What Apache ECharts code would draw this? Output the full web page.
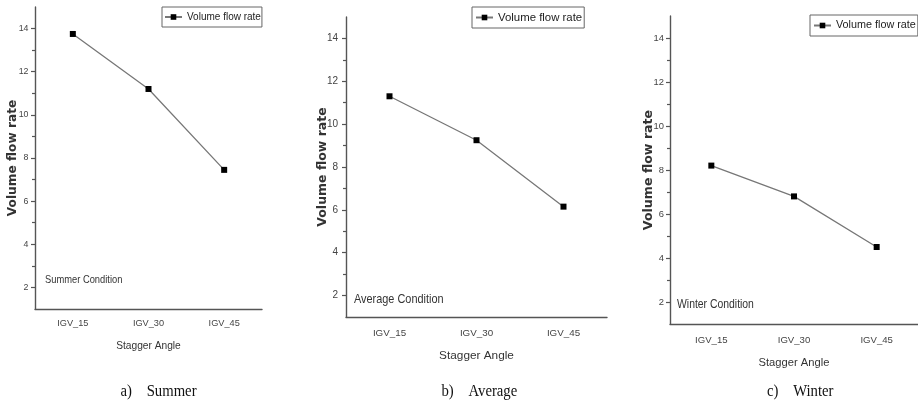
<!DOCTYPE html>
<html>
<head>
<meta charset="utf-8">
<script src="https://cdn.jsdelivr.net/npm/echarts@6/dist/echarts.min.js"></script>
<style>
html,body{margin:0;padding:0;background:#fff;}
#chart{width:918px;height:406px;}
</style>
</head>
<body>
<div id="chart"></div>
<script>
// ---- data ----
const categories = ['IGV_15', 'IGV_30', 'IGV_45'];
const summerFlow = [13.75, 11.2, 7.45];
const averageFlow = [11.3, 9.25, 6.15];
const winterFlow = [8.2, 6.8, 4.5];
const yMajorTicks = [2, 4, 6, 8, 10, 12, 14];
const yMinorTicks = [3, 5, 7, 9, 11, 13];
const seriesName = 'Volume flow rate';
const xAxisTitle = 'Stagger Angle';
const yAxisTitle = 'Volume flow rate';
const conditionLabels = ['Summer Condition', 'Average Condition', 'Winter Condition'];
const captions = ['a)    Summer', 'b)    Average', 'c)    Winter'];
const panelValues = [summerFlow, averageFlow, winterFlow];

// ---- layout ----
const SANS = "'Liberation Sans', Arial, sans-serif";
const panels = [
  { grid: {left: 35, top: 7, width: 227, height: 302},
    xLabelSize: 9.2, xLabelMargin: 10, yLabelSize: 8.8, yLabelMargin: 6.5,
    xNameSize: 10.2, xNameGap: 32, yNameSize: 12.2, yNameGap: 16,
    legend: {left: 162, top: 7, size: 10, pad: [5, 1, 5, 2]},
    cond: {x: 45, y: 280, size: 11.4}, cap: {x: 120.5, y: 392, size: 16} },
  { grid: {left: 346, top: 17, width: 261, height: 300},
    xLabelSize: 9.8, xLabelMargin: 11, yLabelSize: 10, yLabelMargin: 8,
    xNameSize: 11.8, xNameGap: 33, yNameSize: 12.5, yNameGap: 17,
    legend: {left: 472, top: 7, size: 11.4, pad: [5, 2, 5, 3]},
    cond: {x: 354, y: 299, size: 13.3}, cap: {x: 441.5, y: 392, size: 16} },
  { grid: {left: 670, top: 16, width: 251, height: 308},
    xLabelSize: 9.6, xLabelMargin: 11, yLabelSize: 9.4, yLabelMargin: 6,
    xNameSize: 11.2, xNameGap: 33, yNameSize: 12.6, yNameGap: 15,
    legend: {left: 810, top: 15, size: 10.8, pad: [5, 2, 5, 3]},
    cond: {x: 677, y: 304, size: 12.7}, cap: {x: 767, y: 392, size: 16} }
];

const axisColor = '#555';
const grids = [], xAxes = [], yAxes = [], series = [], legends = [], graphics = [];

panels.forEach((p, i) => {
  grids.push(Object.assign({containLabel: false}, p.grid));
  // main category axis (ticks at category centres)
  xAxes.push({
    type: 'category', gridIndex: i, position: 'bottom', data: categories,
    boundaryGap: true,
    axisLine: {lineStyle: {color: axisColor, width: 1.4}},
    axisTick: {alignWithLabel: true, length: 4, lineStyle: {color: axisColor, width: 1.2}},
    axisLabel: {color: '#444', fontSize: p.xLabelSize, margin: p.xLabelMargin, fontFamily: SANS},
    name: xAxisTitle, nameLocation: 'middle', nameGap: p.xNameGap, nameMoveOverlap: false,
    nameTextStyle: {color: '#333', fontSize: p.xNameSize, fontFamily: SANS},
    splitLine: {show: false}
  });
  // boundary minor ticks
  xAxes.push({
    type: 'category', gridIndex: i, position: 'bottom', data: categories,
    boundaryGap: true,
    axisLine: {show: false},
    axisTick: {length: 3, lineStyle: {color: axisColor, width: 1.2}},
    axisLabel: {show: false}, splitLine: {show: false}
  });
  yAxes.push({
    type: 'value', gridIndex: i, position: 'left', min: 1, max: 15,
    axisLine: {show: true, lineStyle: {color: axisColor, width: 1.4}},
    axisTick: {show: true, length: 4, customValues: yMajorTicks, lineStyle: {color: axisColor, width: 1.2}},
    axisLabel: {customValues: yMajorTicks, color: '#444', fontSize: p.yLabelSize, margin: p.yLabelMargin, fontFamily: SANS},
    splitLine: {show: false},
    name: yAxisTitle, nameLocation: 'middle', nameGap: p.yNameGap, nameMoveOverlap: false,
    nameTextStyle: {color: '#333', fontSize: p.yNameSize, fontWeight: 'bold', fontFamily: "'DejaVu Sans', sans-serif"}
  });
  yAxes.push({
    type: 'value', gridIndex: i, position: 'left', offset: 0, min: 1, max: 15,
    axisLine: {show: false},
    axisTick: {show: true, length: 3, customValues: yMinorTicks, lineStyle: {color: axisColor, width: 1.2}},
    axisLabel: {show: false}, splitLine: {show: false}
  });
  series.push({
    name: seriesName, type: 'line', xAxisIndex: i * 2, yAxisIndex: i * 2,
    data: panelValues[i],
    symbol: 'rect', symbolSize: 6,
    itemStyle: {color: '#000'},
    lineStyle: {color: '#777', width: 1.3},
    animation: false
  });
  legends.push({
    left: p.legend.left, top: p.legend.top, orient: 'horizontal',
    data: [seriesName],
    borderColor: '#666', borderWidth: 1, padding: p.legend.pad,
    itemWidth: 17, itemHeight: 7,
    textStyle: {color: '#222', fontSize: p.legend.size, fontFamily: SANS},
    selectedMode: false
  });
  graphics.push({
    type: 'text', x: p.cond.x, y: p.cond.y, scaleX: 0.82,
    style: {text: conditionLabels[i], fill: '#333', fontSize: p.cond.size, fontFamily: SANS, verticalAlign: 'middle', align: 'left'}
  });
  graphics.push({
    type: 'text', x: p.cap.x, y: p.cap.y, scaleX: 0.92,
    style: {text: captions[i], fill: '#111', fontSize: p.cap.size, fontFamily: "'Liberation Serif', serif", verticalAlign: 'middle', align: 'left'}
  });
});

const chart = echarts.init(document.getElementById('chart'), null, {renderer: 'canvas'});
chart.setOption({
  backgroundColor: '#fff',
  animation: false,
  grid: grids, xAxis: xAxes, yAxis: yAxes, series: series,
  legend: legends, graphic: graphics
});
</script>
</body>
</html>
